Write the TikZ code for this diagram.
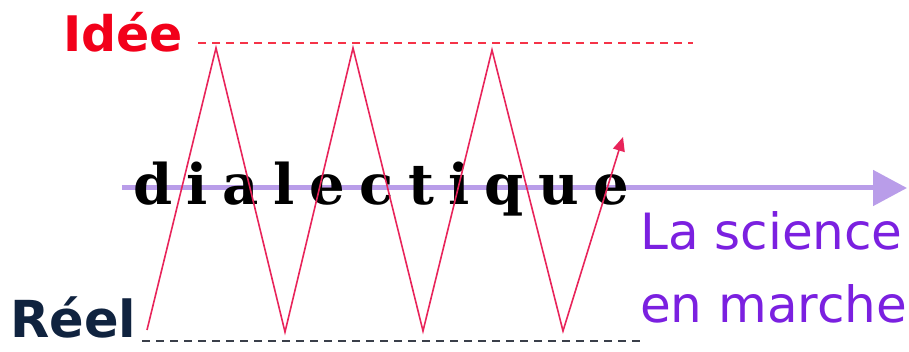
\documentclass[tikz,border=0pt]{standalone}
\usepackage{fontspec}
\usepackage{xcolor}
\usepackage{tikz}
\usetikzlibrary{arrows.meta}

\setmainfont{DejaVu Sans}
\newfontfamily\dialfont[LetterSpace=26]{DejaVu Serif}
\newfontfamily\handfont{DejaVu Sans}

\definecolor{ideered}{HTML}{F2001A}
\definecolor{reelblue}{HTML}{10233F}
\definecolor{zigred}{HTML}{E8245A}
\definecolor{axispurple}{HTML}{B99DE9}
\definecolor{textpurple}{HTML}{7B20E0}
\definecolor{dashgray}{HTML}{3A3F4A}

\begin{document}
\begin{tikzpicture}[x = 1pt, y = -1pt]

\tikzstyle{label_idee}=[anchor = base west, inner sep = 0, text = ideered, font = \bfseries\fontsize{49}{49}\selectfont]
\tikzstyle{label_reel}=[anchor = base west, inner sep = 0, text = reelblue, font = \bfseries\fontsize{51}{51}\selectfont]
\tikzstyle{label_dial}=[anchor = base, inner sep = 0, text = black, font = \dialfont\bfseries\fontsize{56}{56}\selectfont]
\tikzstyle{label_sci}=[anchor = base west, inner sep = 0, text = textpurple, font = \handfont\fontsize{50}{50}\selectfont]
\tikzstyle{level_line}=[dash pattern = on 8pt off 6pt, line width = 2.4pt]

\useasboundingbox (0, 0) rectangle (909, 352);

\coordinate (I1) at (198, 43);
\coordinate (I2) at (693, 43);
\coordinate (R1) at (142, 341);
\coordinate (R2) at (640, 341);
\coordinate (A1) at (122, 188);
\coordinate (A2) at (907, 188);
\coordinate (Z0) at (147, 330);
\coordinate (Z1) at (216, 48);
\coordinate (Z2) at (285, 332);
\coordinate (Z3) at (353, 48);
\coordinate (Z4) at (423, 331);
\coordinate (Z5) at (492, 50);
\coordinate (Z6) at (563, 331);
\coordinate (Z7) at (623, 137);

% levels
\draw[level_line, color = ideered!80] (I1) -- (I2);
\draw[level_line, color = dashgray] (R1) -- (R2);

% axis
\draw[-{Triangle[length = 34pt, width = 35pt]}, line width = 5pt, color = axispurple] (A1) -- (A2);

\path
(63, 52) node[label_idee](idee) {Idée}
(10, 337) node[label_reel](reel) {Réel}
(381, 205) node[label_dial](dial) {dialectique}
(640, 250) node[label_sci](sci1) {La science}
(640, 322) node[label_sci](sci2) {en marche};

% zigzag
\draw[-{Triangle[length = 14pt, width = 12pt]}, line width = 1.6pt, color = zigred, line join = miter]
(Z0) -- (Z1) -- (Z2) -- (Z3) -- (Z4) -- (Z5) -- (Z6) -- (Z7);

\end{tikzpicture}
\end{document}
